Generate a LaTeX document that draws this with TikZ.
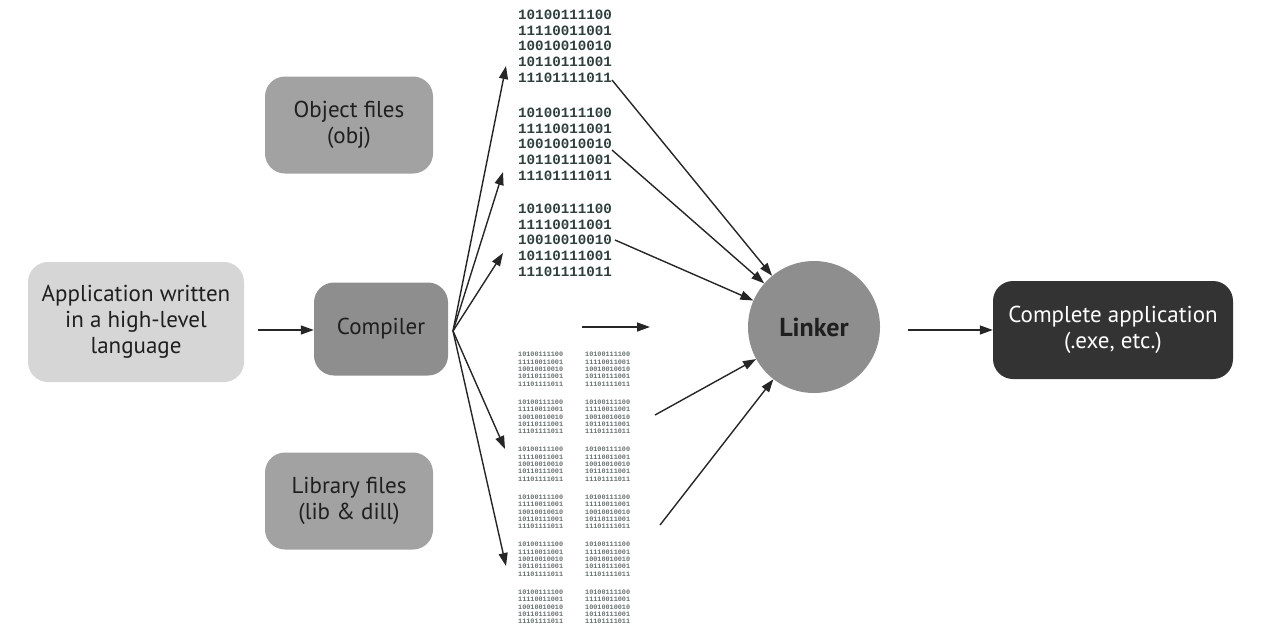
\documentclass[tikz,border=0pt]{standalone}
\usepackage{fontspec}
\setmainfont{PT Sans}
\setmonofont{Liberation Mono}
\usetikzlibrary{arrows.meta}
\definecolor{appgray}{HTML}{D6D6D6}
\definecolor{objgray}{HTML}{A2A2A2}
\definecolor{compgray}{HTML}{8E8E8E}
\definecolor{darkbox}{HTML}{333333}
\definecolor{bincol}{HTML}{2F3F3D}
\definecolor{bincolsmall}{HTML}{66716F}
\tikzset{
  box/.style={rounded corners=20pt, draw=none, align=center, inner sep=0pt,
    font=\fontsize{23}{26}\selectfont, text=black!88},
  arr/.style={line width=1.4pt, draw=black!85, -{Triangle[length=13pt,width=9pt]}},
  bigbin/.style={anchor=north west, inner sep=0pt, align=left, text=bincol,
    font=\ttfamily\bfseries\fontsize{14.2}{15.6}\selectfont},
  smallbin/.style={anchor=north west, inner sep=0pt, align=left, text=bincolsmall,
    font=\ttfamily\bfseries\fontsize{6.8}{7.4}\selectfont},
}
\newcommand{\bintext}{10100111100\\11110011001\\10010010010\\10110111001\\11101111011}
\begin{document}
\begin{tikzpicture}[x=1pt,y=-1pt]
\useasboundingbox (0,0) rectangle (1265,637);
% main boxes
\node[box, fill=appgray, minimum width=216pt, minimum height=120pt] (app) at (136,322) {Application written\\in a high-level\\language};
\node[box, fill=compgray, minimum width=134pt, minimum height=93pt] (comp) at (381,329) {Compiler};
\node[box, fill=objgray, minimum width=168pt, minimum height=97pt] (obj) at (349,125) {Object files\\(obj)};
\node[box, fill=objgray, minimum width=168pt, minimum height=97pt] (lib) at (349,501) {Library files\\(lib \& dill)};
\node[circle, fill=compgray, minimum size=132pt, inner sep=0pt, text=black!88,
  font=\bfseries\fontsize{26}{28}\selectfont] (link) at (814,327) {Linker};
\node[box, fill=darkbox, text=white, minimum width=240pt, minimum height=98pt] (exe) at (1113,330) {Complete application\\(.exe, etc.)};
% top binary blocks
\node[bigbin] (b1) at (518,10) {\bintext};
\node[bigbin] (b2) at (518,108) {\bintext};
\node[bigbin] (b3) at (518,204) {\bintext};
% bottom binary blocks
\foreach \r in {0,...,5}{
  \node[smallbin] (l\r) at (518,{352+47.5*\r}) {\bintext};
  \node[smallbin] (r\r) at (585,{352+47.5*\r}) {\bintext};
}
% coordinates
\coordinate (fan) at (453,331);
\coordinate (t1) at (506,66);
\coordinate (t2) at (503,172);
\coordinate (t3) at (503,253);
\coordinate (t4) at (505,449);
\coordinate (t5) at (506,566);
\coordinate (s1) at (612,80);
\coordinate (s2) at (612,150);
\coordinate (s3) at (615,240);
\coordinate (s4) at (655,415);
\coordinate (s5) at (660,525);
\coordinate (m1) at (582,327);
\coordinate (m2) at (650,327);
% connectors
\draw[arr] (app.east) ++(14,8) coordinate (a0) -- (comp.west |- a0);
\foreach \t in {t1,t2,t3,t4,t5}{ \draw[arr] (fan) -- (\t); }
\draw[arr] (m1) -- (m2);
\draw[arr] (s1) -- (link);
\draw[arr] (s2) -- (link);
\draw[arr] (s3) -- (link);
\draw[arr] (s4) -- (link);
\draw[arr] (s5) -- (link);
\draw[arr] (link.east) ++(28,3) coordinate (c0) -- (exe.west |- c0);
\end{tikzpicture}
\end{document}
